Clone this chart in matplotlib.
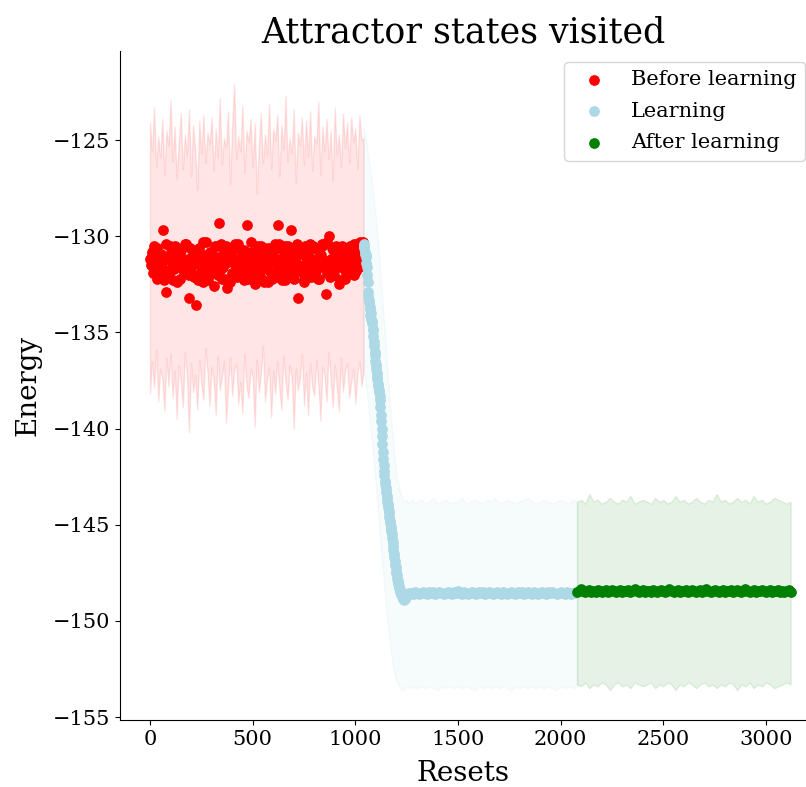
import numpy as np
import matplotlib.pyplot as plt

plt.rcParams['font.family'] = 'DejaVu Serif'

# ---- before learning: two interleaved runs of visited states (step 8) ----
before_x = np.arange(0, 1040, 8)
before_energy = [
    -131.2, -130.8, -131.9, -131.5, -130.6, -132.1, -131.0, -131.4, -129.7, -131.8,
    -132.9, -131.1, -130.5, -131.7, -132.3, -131.0, -130.9, -131.6, -132.2, -130.7,
    -131.3, -131.9, -130.4, -131.2, -133.2, -131.6, -130.8, -132.0, -133.6, -131.4,
    -130.6, -131.8, -132.4, -131.0, -130.3, -131.5, -132.0, -130.9, -131.3, -132.6,
    -131.1, -130.5, -129.3, -131.7, -132.2, -130.8, -131.4, -132.7, -131.0, -130.6,
    -131.9, -131.2, -130.4, -132.1, -131.6, -130.7, -131.3, -132.3, -130.9, -129.4,
    -131.5, -132.0, -130.8, -131.2, -132.5, -131.0, -130.5, -131.8, -132.2, -131.1,
    -130.6, -131.7, -132.4, -130.9, -131.3, -131.9, -130.4, -132.1, -129.4, -131.2,
    -131.6, -130.7, -132.3, -131.0, -130.5, -131.8, -129.7, -132.0, -131.3, -130.8,
    -133.2, -131.5, -130.6, -131.9, -132.4, -131.1, -130.9, -131.6, -132.1, -130.5,
    -131.3, -131.8, -130.7, -132.2, -131.0, -130.4, -131.5, -133.0, -131.9, -130.0,
    -131.2, -130.6, -132.0, -131.4, -130.9, -132.5, -131.1, -130.5, -131.7, -132.2,
    -130.8, -131.3, -131.9, -130.6, -132.0, -131.2, -130.4, -131.6, -130.3, -130.6,
]
before_x2 = np.arange(4, 1044, 8)
before_energy2 = [
    -131.5, -131.0, -130.5, -131.8, -132.2, -131.3, -130.9, -131.6, -132.3, -130.4,
    -131.2, -131.9, -130.8, -131.4, -131.7, -130.5, -132.4, -131.1, -130.9, -131.5,
    -131.8, -130.4, -131.3, -132.0, -130.6, -131.5, -132.1, -130.9, -131.2, -132.3,
    -131.0, -131.6, -130.3, -131.9, -131.3, -132.3, -130.8, -131.4, -131.7, -130.5,
    -131.4, -132.0, -131.1, -130.4, -131.6, -132.2, -130.5, -131.3, -132.4, -131.0,
    -130.6, -131.5, -131.8, -130.4, -131.2, -132.0, -131.4, -130.7, -131.6, -132.2,
    -131.1, -130.3, -131.7, -132.3, -130.9, -131.3, -131.8, -130.5, -131.5, -132.4,
    -131.0, -131.4, -130.6, -131.9, -132.2, -130.7, -131.2, -131.6, -130.4, -131.8,
    -132.3, -131.3, -130.5, -131.5, -131.9, -130.6, -131.1, -132.2, -131.4, -130.4,
    -131.6, -130.9, -131.8, -132.3, -130.5, -131.3, -131.7, -130.4, -131.2, -132.0,
    -130.6, -131.5, -132.2, -131.0, -130.5, -131.6, -131.3, -130.3, -131.8, -132.1,
    -131.4, -130.7, -131.7, -130.5, -131.2, -132.3, -131.5, -130.6, -131.1, -131.9,
    -131.3, -130.5, -131.6, -131.0, -130.4, -131.8, -131.2, -130.7, -130.4, -130.3,
]

# spread band before learning (resets 0..1040, step 10)
before_band_x = np.arange(0, 1050, 10)
before_upper = [
    -124.1, -125.6, -123.3, -126.4, -124.8, -125.9, -123.9, -126.8, -124.5, -125.3,
    -122.9, -126.1, -124.3, -127.0, -125.1, -123.6, -126.5, -124.7, -125.8, -123.4,
    -126.9, -124.2, -125.5, -127.6, -124.0, -125.7, -123.7, -126.2, -124.6, -125.2,
    -123.8, -126.6, -124.4, -125.9, -122.8, -126.3, -124.9, -125.4, -123.5, -127.3,
    -124.3, -122.1, -126.0, -124.8, -125.6, -123.2, -126.7, -124.5, -125.1, -123.9,
    -126.4, -124.1, -127.8, -125.3, -123.6, -126.2, -124.7, -125.8, -123.1, -126.5,
    -124.4, -125.0, -123.7, -126.9, -124.2, -125.5, -122.7, -126.1, -124.9, -125.7,
    -123.4, -127.2, -124.6, -125.3, -123.8, -126.3, -124.0, -125.9, -123.5, -126.6,
    -124.8, -125.2, -123.0, -126.8, -124.3, -125.6, -123.9, -126.0, -124.5, -127.1,
    -123.3, -125.8, -124.7, -126.4, -123.6, -125.4, -124.1, -126.2, -123.8, -125.1,
    -124.4, -126.5, -123.7, -125.0, -124.9,
]
before_lower = [
    -138.2, -136.5, -137.9, -135.9, -138.6, -136.9, -137.4, -139.1, -136.3, -137.8,
    -136.1, -138.4, -137.0, -139.5, -136.7, -137.6, -138.9, -136.0, -137.3, -140.2,
    -136.6, -138.1, -137.2, -139.0, -136.4, -137.7, -138.5, -135.8, -137.1, -138.8,
    -136.8, -137.5, -139.3, -136.2, -138.0, -137.4, -136.5, -139.7, -137.9, -136.3,
    -138.3, -137.0, -136.6, -138.7, -137.6, -139.2, -136.1, -137.8, -138.4, -136.9,
    -137.3, -139.9, -136.4, -138.1, -137.2, -135.7, -138.6, -137.5, -136.8, -139.4,
    -137.0, -138.2, -136.5, -137.9, -139.0, -136.2, -137.6, -138.5, -136.7, -137.3,
    -140.0, -136.9, -138.0, -137.4, -136.1, -138.8, -137.1, -139.3, -136.6, -137.8,
    -138.3, -136.4, -137.7, -139.6, -136.8, -137.2, -138.6, -136.0, -137.5, -138.9,
    -136.7, -137.9, -139.1, -136.3, -138.1, -137.0, -136.6, -138.4, -137.6, -136.9,
    -138.7, -137.2, -136.5, -137.8, -137.1,
]

# ---- learning: descent 1040..1260 (step 2), plateau 1270..2070 (step 10) ----
learn_x = np.concatenate([np.arange(1040, 1262, 2), np.arange(1270, 2080, 10)])
learn_energy = [
    -130.4, -130.6, -130.5, -130.9, -130.8, -131.1, -131.0, -131.4, -131.6, -132.0,
    -132.4, -132.9, -133.1, -133.4, -133.3, -133.7, -133.8, -134.1, -134.0, -134.3,
    -134.5, -134.4, -134.8, -134.9, -135.2, -135.5, -135.7, -136.0, -136.2, -136.5,
    -136.7, -136.9, -137.1, -137.3, -137.4, -137.7, -137.8, -138.0, -138.1, -138.3,
    -138.5, -138.9, -139.3, -139.6, -140.0, -140.4, -140.8, -141.2, -141.6, -141.9,
    -142.2, -142.4, -142.7, -142.9, -143.1, -143.3, -143.5, -143.6, -143.8, -143.9,
    -144.1, -144.3, -144.4, -144.6, -144.8, -144.9, -145.1, -145.2, -145.3, -145.5,
    -145.7, -145.9, -146.1, -146.3, -146.5, -146.7, -146.9, -147.1, -147.2, -147.4,
    -147.5, -147.6, -147.8, -147.9, -148.0, -148.1, -148.2, -148.3, -148.4, -148.4,
    -148.5, -148.6, -148.6, -148.7, -148.7, -148.8, -148.8, -148.85, -148.9, -148.85,
    -148.8, -148.85, -148.75, -148.7, -148.7, -148.65, -148.6, -148.65, -148.6, -148.6,
    -148.55,
    -148.55, -148.6, -148.5, -148.55, -148.6, -148.55, -148.5, -148.55, -148.6, -148.5,
    -148.55, -148.5, -148.6, -148.55, -148.5, -148.55, -148.6, -148.55, -148.5, -148.55,
    -148.6, -148.5, -148.55, -148.45, -148.55, -148.6, -148.5, -148.55, -148.6, -148.55,
    -148.5, -148.55, -148.6, -148.5, -148.55, -148.5, -148.6, -148.55, -148.5, -148.55,
    -148.6, -148.55, -148.5, -148.55, -148.6, -148.5, -148.55, -148.6, -148.55, -148.5,
    -148.55, -148.6, -148.5, -148.55, -148.5, -148.6, -148.55, -148.5, -148.55, -148.6,
    -148.5, -148.55, -148.6, -148.55, -148.5, -148.55, -148.6, -148.5, -148.55, -148.5,
    -148.55, -148.6, -148.55, -148.5, -148.55, -148.6, -148.5, -148.55, -148.6, -148.55,
    -148.55,
]

learn_band_x = np.concatenate([np.arange(1040, 1310, 10), np.arange(1320, 2100, 20)])
learn_upper = [
    -124.3, -124.8, -125.6, -126.3, -127.2, -128.1, -129.0, -130.2, -131.6, -133.0,
    -134.5, -136.0, -137.5, -138.9, -140.2, -141.3, -142.2, -142.9, -143.4, -143.6,
    -143.8, -143.7, -143.9, -143.8, -143.7, -143.9, -143.8,
    -143.7, -143.9, -143.8, -143.6, -143.9, -143.8, -143.7, -143.9, -143.8, -143.8,
    -143.6, -143.9, -143.8, -143.7, -143.8, -143.9, -143.7, -143.8, -143.6, -143.9,
    -143.8, -143.7, -143.8, -143.9, -143.8, -143.7, -143.6, -143.8, -143.9, -143.8,
    -143.7, -143.8, -143.9, -143.8, -143.7, -143.8, -143.9, -143.7, -143.8,
]
learn_lower = [
    -136.8, -137.6, -138.5, -139.5, -140.6, -141.8, -143.0, -144.3, -145.6, -146.9,
    -148.1, -149.3, -150.4, -151.3, -152.1, -152.7, -153.1, -153.3, -153.5, -153.6,
    -153.5, -153.4, -153.5, -153.4, -153.5, -153.4, -153.5,
    -153.4, -153.5, -153.4, -153.5, -153.6, -153.4, -153.5, -153.4, -153.5, -153.4,
    -153.5, -153.4, -153.5, -153.6, -153.4, -153.5, -153.4, -153.5, -153.4, -153.5,
    -153.4, -153.5, -153.6, -153.4, -153.5, -153.4, -153.5, -153.4, -153.5, -153.4,
    -153.5, -153.4, -153.5, -153.6, -153.4, -153.5, -153.4, -153.5, -153.4,
]

# ---- after learning (states 2080..3120 step 10, band step 20) ----
after_x = np.arange(2080, 3130, 10)
after_energy = [
    -148.5, -148.45, -148.35, -148.45, -148.5, -148.45, -148.4, -148.5, -148.45, -148.5,
    -148.4, -148.45, -148.5, -148.45, -148.4, -148.5, -148.45, -148.4, -148.45, -148.5,
    -148.45, -148.4, -148.5, -148.45, -148.45, -148.4, -148.5, -148.45, -148.35, -148.45,
    -148.5, -148.45, -148.4, -148.5, -148.45, -148.45, -148.5, -148.4, -148.45, -148.5,
    -148.45, -148.4, -148.45, -148.5, -148.45, -148.35, -148.45, -148.5, -148.45, -148.4,
    -148.5, -148.45, -148.45, -148.4, -148.5, -148.45, -148.4, -148.45, -148.5, -148.45,
    -148.4, -148.5, -148.45, -148.35, -148.45, -148.5, -148.45, -148.4, -148.45, -148.5,
    -148.45, -148.4, -148.5, -148.45, -148.45, -148.4, -148.5, -148.45, -148.4, -148.45,
    -148.5, -148.45, -148.35, -148.45, -148.5, -148.45, -148.4, -148.5, -148.45, -148.45,
    -148.4, -148.45, -148.5, -148.45, -148.4, -148.5, -148.45, -148.45, -148.4, -148.5,
    -148.45, -148.5, -148.45, -148.4, -148.5,
]
after_band_x = np.arange(2080, 3140, 20)
after_upper = [
    -143.8, -143.7, -143.9, -143.4, -143.8, -143.7, -143.9, -143.8, -143.6, -143.8,
    -143.9, -143.7, -143.8, -143.5, -143.9, -143.8, -143.7, -143.8, -143.9, -143.6,
    -143.8, -143.7, -143.9, -143.8, -143.5, -143.8, -143.7, -143.9, -143.8, -143.6,
    -143.8, -143.9, -143.7, -143.8, -143.4, -143.8, -143.7, -143.9, -143.8, -143.6,
    -143.8, -143.7, -143.9, -143.5, -143.8, -143.7, -143.9, -143.8, -143.6, -143.7,
    -143.8, -143.9, -143.8,
]
after_lower = [
    -153.3, -153.4, -153.2, -153.5, -153.3, -153.4, -153.2, -153.3, -153.6, -153.3,
    -153.2, -153.4, -153.3, -153.5, -153.2, -153.3, -153.4, -153.3, -153.2, -153.5,
    -153.3, -153.4, -153.2, -153.3, -153.6, -153.3, -153.4, -153.2, -153.3, -153.5,
    -153.3, -153.2, -153.4, -153.3, -153.5, -153.3, -153.4, -153.2, -153.3, -153.6,
    -153.3, -153.4, -153.2, -153.5, -153.3, -153.4, -153.2, -153.3, -153.5, -153.4,
    -153.3, -153.2, -153.3,
]

fig = plt.figure(figsize=(8.06, 7.87), dpi=100)
ax = fig.add_axes([120 / 806, 67 / 787, 686 / 806, 669 / 787])

# spread bands
ax.fill_between(before_band_x, before_lower, before_upper, color='red', alpha=0.1)
ax.fill_between(learn_band_x, learn_lower, learn_upper, color='lightblue', alpha=0.1)
ax.fill_between(after_band_x, after_lower, after_upper, color='green', alpha=0.1)

# visited states
ms = 45
ax.scatter(before_x, before_energy, color='red', s=ms, label='Before learning')
ax.scatter(before_x2, before_energy2, color='red', s=ms)
ax.scatter(learn_x, learn_energy, color='lightblue', s=ms, label='Learning')
ax.scatter(after_x, after_energy, color='green', s=ms, label='After learning')

ax.set_xlim(-146, 3195)
ax.set_ylim(-155.15, -120.37)
ax.set_xticks(np.arange(0, 3500, 500))
ax.set_yticks(np.arange(-155, -120, 5))
ax.tick_params(labelsize=15)
ax.spines['top'].set_visible(False)
ax.spines['right'].set_visible(False)

ax.set_title('Attractor states visited', fontsize=25)
ax.set_xlabel('Resets', fontsize=20, labelpad=8)
ax.set_ylabel('Energy', fontsize=20, labelpad=8)
ax.legend(loc='upper right', bbox_to_anchor=(0.9985, 0.9836), borderaxespad=0,
          fontsize=15, labelspacing=0.6)

fig.savefig('out.png', dpi=100)
